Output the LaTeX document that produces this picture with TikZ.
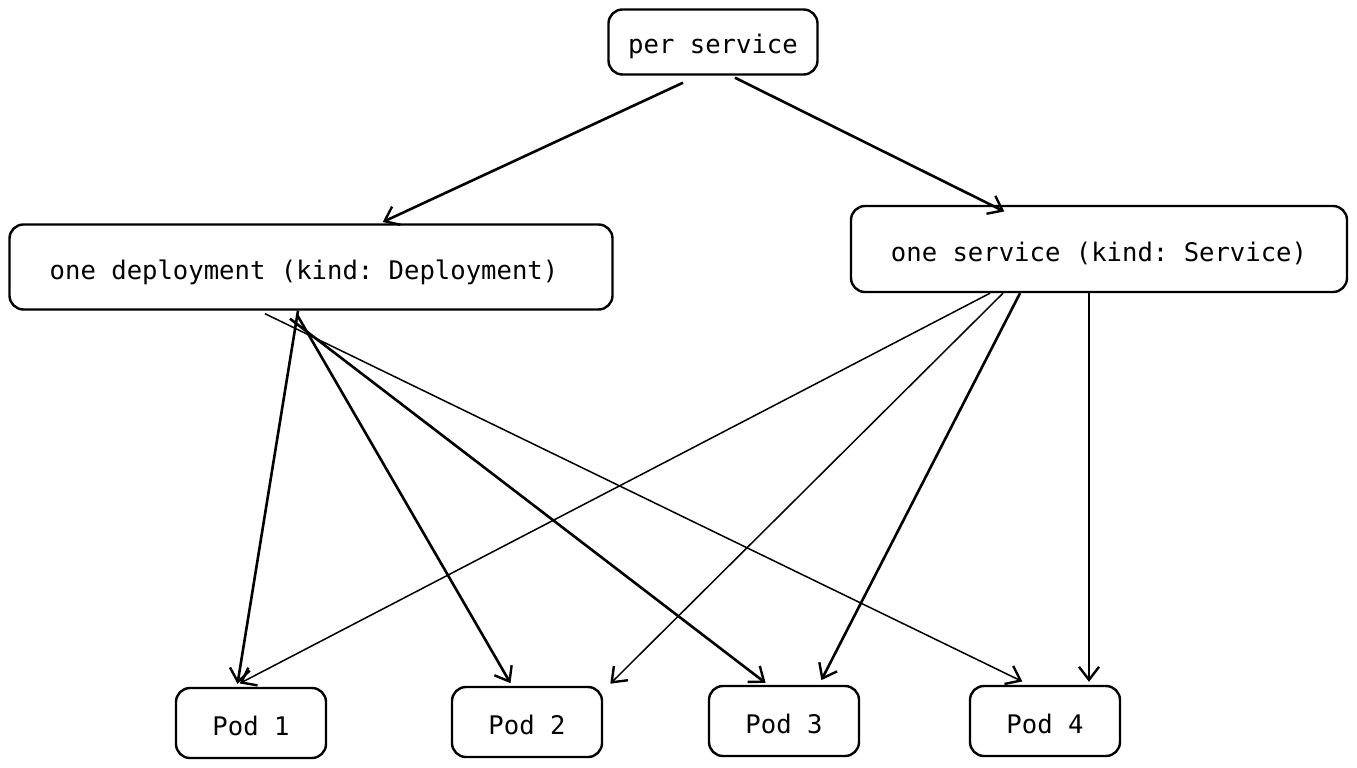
\documentclass[tikz,border=0pt]{standalone}
\usepackage{fontspec}
\setmonofont{DejaVu Sans Mono}
\usepackage{tikz}
\usetikzlibrary{positioning,arrows.meta}

\tikzset{
  box/.style={draw,line width=2.4pt,rounded corners=14pt,align=center,
    font=\ttfamily\fontsize{25.6}{30}\selectfont,text depth=0pt,text height=24pt},
  podbox/.style={box,minimum width=150pt,minimum height=70pt},
  arr/.style={-{Straight Barb[length=13pt,width=20pt,line width=2.4pt]},line width=2.6pt,shorten >=3pt},
  thinarr/.style={arr,line width=1.5pt}
}

\begin{document}
\begin{tikzpicture}[x=1pt,y=-1pt]
            \useasboundingbox (0,0) rectangle (1357,768);
            \node[box,minimum width=209pt,minimum height=65pt] (ps) at (713,42) {per service};
            \node[box,minimum width=603pt,minimum height=85pt] (dep) at (311,267) {one deployment (kind: Deployment)\hspace*{14pt}};
            \node[box,minimum width=496pt,minimum height=86pt] (srv) at (1099,249) {one service (kind: Service)};
            \node[podbox] (p1) at (251,723) {Pod 1};
            \node[podbox] (p2) at (527,722) {Pod 2};
            \node[podbox] (p3) at (784,721) {Pod 3};
            \node[podbox] (p4) at (1045,721) {Pod 4};
            % from the top box
            \path[arr] ([xshift=-30pt,yshift=-7pt]ps.south) edge ([xshift=69pt]dep.north)
                       ([xshift=22pt,yshift=-2pt]ps.south) edge ([xshift=-92pt,yshift=-8pt]srv.north);
            % deployment to pods
            \path[arr] ([xshift=-13pt]dep.south) edge ([xshift=-14pt]p1.north)
                       ([xshift=-14pt,yshift=-4pt]dep.south) edge ([xshift=-15pt]p2.north)
                       ([xshift=-21pt,yshift=-8pt]dep.south) edge ([xshift=-16pt]p3.north);
            \path[thinarr] ([xshift=-46pt,yshift=-3pt]dep.south) edge ([xshift=-20pt,yshift=2pt]p4.north);
            % service to pods
            \path[thinarr] ([xshift=-109pt]srv.south) edge ([xshift=-14pt,yshift=2pt]p1.north)
                           ([xshift=-96pt]srv.south) edge ([xshift=5pt]p2.north east);
            \path[arr] ([xshift=-79pt]srv.south) edge ([xshift=36pt,yshift=2pt]p3.north)
                       ([xshift=-10pt]srv.south) edge ([xshift=44pt]p4.north);
        \end{tikzpicture}
\end{document}
